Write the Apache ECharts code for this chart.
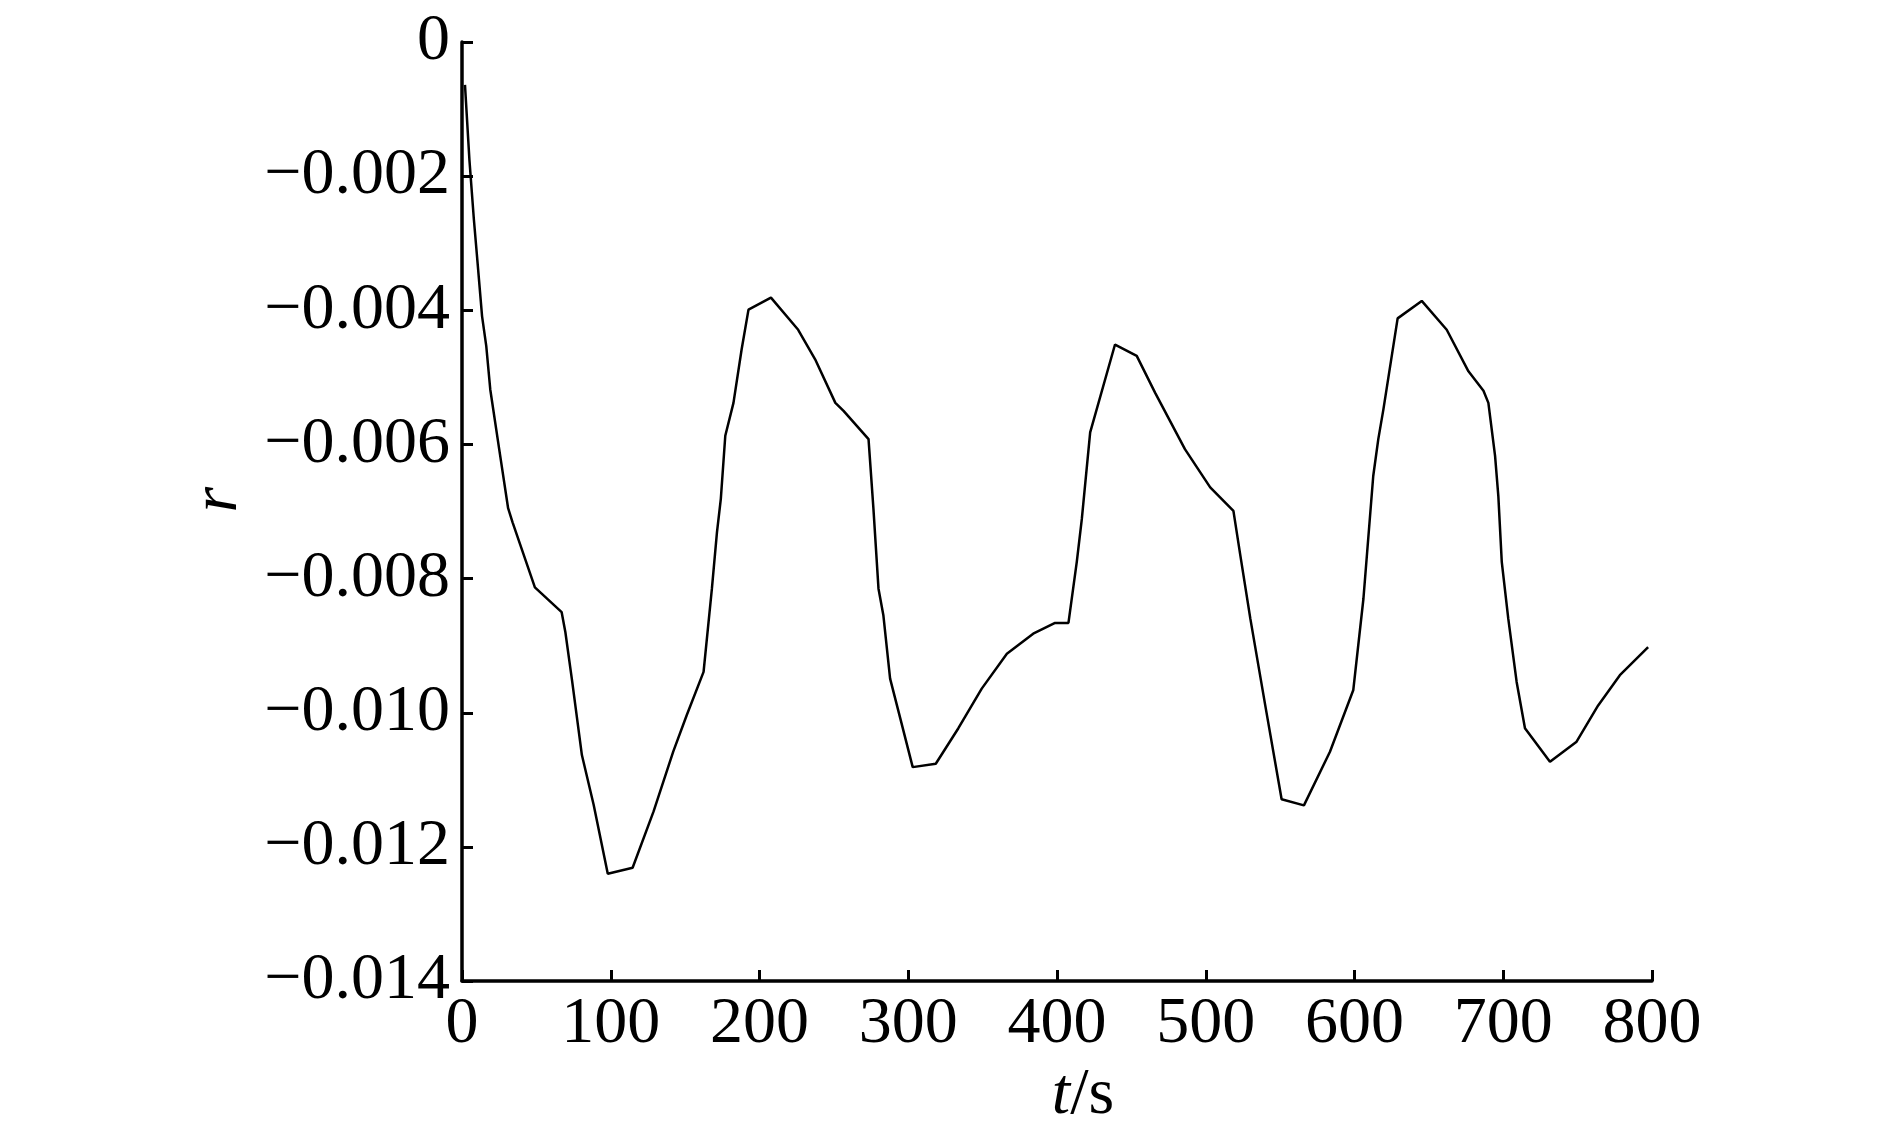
<!DOCTYPE html>
<html>
<head>
<meta charset="utf-8">
<title>r - t</title>
<script src="https://cdn.jsdelivr.net/npm/echarts@6/dist/echarts.min.js"></script>
<style>
    html, body { margin: 0; padding: 0; background: #fff; }
    #chart { width: 1890px; height: 1134px; }
</style>
</head>
<body>
<div id="chart"></div>
<script>
// 时间 t/s
const tValues = [
    2, 5, 8, 10.5, 13.5, 16.3, 19, 25, 31, 34, 49, 67, 69.5, 74, 80.6, 88.5, 98,
    114.7, 128.8, 142, 151, 162.4, 168, 171.4, 174, 177, 182.5, 188, 192.6, 207.7,
    226, 237.4, 251, 256.5, 273.3, 276.6, 280, 283.3, 287.8, 294.6, 303, 318.5,
    333.7, 349.4, 366.3, 384, 398.7, 407.7, 413.3, 416.7, 422.3, 439, 453.6, 466,
    486, 503, 518.6, 523.3, 530, 540, 551, 566, 583.5, 599.2, 606, 612.6, 616,
    619.4, 629, 645.2, 662, 676.6, 686.7, 690, 694.5, 696.7, 699, 703.4, 709,
    714.6, 731.4, 749.3, 763.8, 778.4, 797.4
];
// r
const rValues = [
    -0.00064, -0.00176, -0.00265, -0.0033, -0.00409, -0.00453, -0.00518, -0.00607,
    -0.00695, -0.00716, -0.00813, -0.0085, -0.0088, -0.00952, -0.01063, -0.01137,
    -0.0124, -0.01231, -0.01147, -0.01058, -0.01004, -0.00939, -0.00815, -0.00731,
    -0.00681, -0.00587, -0.00538, -0.00458, -0.00399, -0.00381, -0.00429, -0.00473,
    -0.00538, -0.0055, -0.00592, -0.00696, -0.00815, -0.00855, -0.00949, -0.01008,
    -0.01081, -0.01076, -0.01023, -0.00964, -0.00912, -0.00882, -0.00866, -0.00866,
    -0.00775, -0.00711, -0.00582, -0.00451, -0.00468, -0.00523, -0.00607, -0.00664,
    -0.00699, -0.00766, -0.0086, -0.00989, -0.01129, -0.01138, -0.01058, -0.00966,
    -0.0083, -0.00647, -0.00592, -0.00548, -0.00412, -0.00386, -0.00429, -0.00491,
    -0.0052, -0.00538, -0.00617, -0.00677, -0.00775, -0.0086, -0.00954, -0.01023,
    -0.01073, -0.01043, -0.00989, -0.00944, -0.00902
];

const FONT = '"Liberation Serif", "Times New Roman", serif';

const chart = echarts.init(document.getElementById('chart'));

const points = tValues.map((t, i) => [t, rValues[i]]);

chart.setOption({
    animation: false,
    backgroundColor: '#fff',
    grid: { left: 462, right: 238, top: 42, bottom: 151, containLabel: false },
    xAxis: {
        type: 'value',
        min: 0,
        max: 800,
        interval: 100,
        name: '{i|t}/s',
        nameLocation: 'middle',
        nameGap: 78,
        nameTextStyle: {
            color: '#000', fontFamily: FONT, fontSize: 66, padding: [0, 0, 0, 52],
            rich: { i: { fontStyle: 'italic', fontFamily: FONT, fontSize: 66, color: '#000' } }
        },
        axisLine: { show: true, onZero: false, lineStyle: { color: '#000', width: 3.5 } },
        axisTick: { show: true, inside: true, length: 11, lineStyle: { color: '#000', width: 3 } },
        axisLabel: { color: '#000', fontFamily: FONT, fontSize: 66, margin: 11 },
        splitLine: { show: false }
    },
    yAxis: {
        type: 'value',
        min: -0.014,
        max: 0,
        interval: 0.002,
        name: 'r',
        nameLocation: 'middle',
        nameRotate: 90,
        nameGap: 210,
        nameTextStyle: { color: '#000', fontFamily: FONT, fontSize: 66, fontStyle: 'italic', padding: [0, 0, 0, 24] },
        axisLine: { show: true, onZero: false, lineStyle: { color: '#000', width: 3.5 } },
        axisTick: { show: true, inside: true, length: 11, lineStyle: { color: '#000', width: 3 } },
        axisLabel: {
            color: '#000', fontFamily: FONT, fontSize: 66, margin: 12,
            formatter: v => (Math.abs(v) < 1e-9 ? '0' : '\u2212' + Math.abs(v).toFixed(3))
        },
        splitLine: { show: false }
    },
    series: [{
        type: 'line',
        data: points,
        showSymbol: false,
        lineStyle: { color: '#000', width: 2.5 }
    }]
});
</script>
</body>
</html>
